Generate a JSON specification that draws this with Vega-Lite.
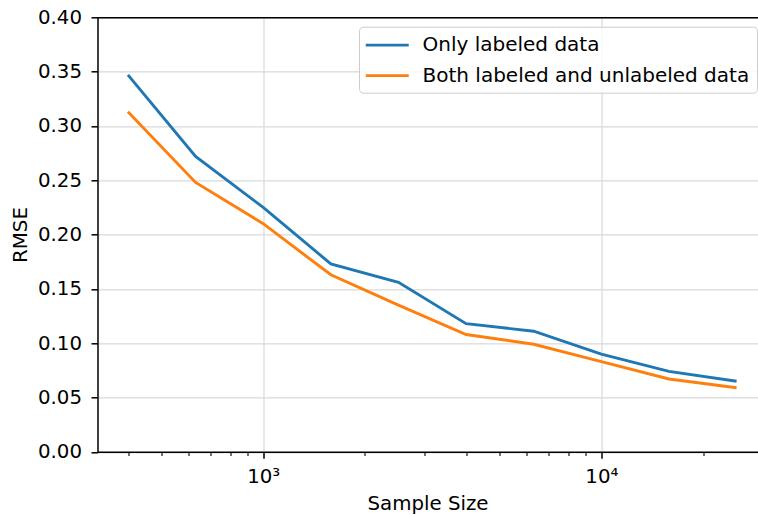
{
  "$schema": "https://vega.github.io/schema/vega-lite/v6.json",
  "width": 660,
  "height": 434.5,
  "autosize": {"type": "none"},
  "padding": {"left": 97.5, "top": 17.3, "right": 0.5, "bottom": 63.2},
  "background": "white",
  "config": {
    "font": "DejaVu Sans",
    "view": {"stroke": null},
    "axis": {
      "labelFont": "DejaVu Sans",
      "titleFont": "DejaVu Sans",
      "labelFontSize": 19.8,
      "titleFontSize": 19.8,
      "titleFontWeight": "normal",
      "labelColor": "black",
      "titleColor": "black",
      "domainColor": "black",
      "domainWidth": 1.5,
      "tickColor": "black",
      "tickWidth": 1.5,
      "gridColor": "#d9d9d9",
      "gridWidth": 1.2
    },
    "legend": {
      "orient": "none",
      "legendX": 261.5,
      "legendY": 9.4,
      "symbolType": "M-1.205,0H3.205",
      "symbolSize": 380,
      "symbolStrokeWidth": 2.8,
      "labelOffset": 33.5,
      "padding": 7,
      "rowPadding": 8.5,
      "strokeColor": "#cccccc",
      "cornerRadius": 4,
      "fillColor": "rgba(255,255,255,0.8)",
      "labelFont": "DejaVu Sans",
      "labelFontSize": 20,
      "labelColor": "black",
      "labelLimit": 500
    }
  },
  "data": {
    "values": [
      {"n": 398.1, "rmse": 0.347, "method": "Only labeled data"},
      {"n": 631.0, "rmse": 0.272, "method": "Only labeled data"},
      {"n": 1000, "rmse": 0.225, "method": "Only labeled data"},
      {"n": 1584.9, "rmse": 0.173, "method": "Only labeled data"},
      {"n": 2511.9, "rmse": 0.156, "method": "Only labeled data"},
      {"n": 3981.1, "rmse": 0.118, "method": "Only labeled data"},
      {"n": 6309.6, "rmse": 0.111, "method": "Only labeled data"},
      {"n": 10000, "rmse": 0.090, "method": "Only labeled data"},
      {"n": 15848.9, "rmse": 0.074, "method": "Only labeled data"},
      {"n": 25118.9, "rmse": 0.065, "method": "Only labeled data"},
      {"n": 398.1, "rmse": 0.313, "method": "Both labeled and unlabeled data"},
      {"n": 631.0, "rmse": 0.248, "method": "Both labeled and unlabeled data"},
      {"n": 1000, "rmse": 0.210, "method": "Both labeled and unlabeled data"},
      {"n": 1584.9, "rmse": 0.163, "method": "Both labeled and unlabeled data"},
      {"n": 2511.9, "rmse": 0.135, "method": "Both labeled and unlabeled data"},
      {"n": 3981.1, "rmse": 0.108, "method": "Both labeled and unlabeled data"},
      {"n": 6309.6, "rmse": 0.099, "method": "Both labeled and unlabeled data"},
      {"n": 10000, "rmse": 0.083, "method": "Both labeled and unlabeled data"},
      {"n": 15848.9, "rmse": 0.067, "method": "Both labeled and unlabeled data"},
      {"n": 25118.9, "rmse": 0.059, "method": "Both labeled and unlabeled data"}
    ]
  },
  "layer": [
    {
      "mark": {"type": "line", "strokeWidth": 2.9, "clip": true},
      "encoding": {
        "x": {
          "field": "n", "type": "quantitative",
          "scale": {"type": "log", "domain": [323.6, 28960], "nice": false},
          "axis": {
            "orient": "bottom",
            "values": [1000, 10000],
            "labelExpr": "datum.value == 1000 ? '10³' : '10⁴'",
            "grid": true,
            "tickSize": 6.5,
            "labelPadding": 8,
            "title": "Sample Size",
            "titlePadding": 7
          }
        },
        "y": {
          "field": "rmse", "type": "quantitative",
          "scale": {"domain": [0, 0.4], "nice": false},
          "axis": {
            "values": [0, 0.05, 0.1, 0.15, 0.2, 0.25, 0.3, 0.35, 0.4],
            "format": ".2f",
            "grid": true,
            "tickSize": 6.5,
            "labelPadding": 9.5,
            "title": "RMSE",
            "titlePadding": 7
          }
        },
        "color": {
          "field": "method", "type": "nominal",
          "scale": {"domain": ["Only labeled data", "Both labeled and unlabeled data"], "range": ["#1f77b4", "#ff7f0e"]},
          "legend": {"title": null}
        }
      }
    },
    {
      "mark": {"type": "line", "strokeWidth": 0, "opacity": 0},
      "encoding": {
        "x": {
          "field": "n", "type": "quantitative",
          "scale": {"type": "log", "domain": [323.6, 28960], "nice": false},
          "axis": {
            "orient": "bottom",
            "values": [400, 500, 600, 700, 800, 900, 2000, 3000, 4000, 5000, 6000, 7000, 8000, 9000, 20000],
            "labels": false, "grid": false, "domain": false,
            "tickSize": 3.7, "tickWidth": 1.1, "title": null
          }
        },
        "y": {"field": "rmse", "type": "quantitative"},
        "detail": {"field": "method"}
      }
    },
    {
      "mark": {"type": "line", "strokeWidth": 0, "opacity": 0},
      "encoding": {
        "x": {
          "field": "n", "type": "quantitative",
          "scale": {"type": "log", "domain": [323.6, 28960], "nice": false},
          "axis": {
            "orient": "top",
            "values": [],
            "labels": false, "grid": false, "domain": true, "ticks": false, "title": null
          }
        },
        "y": {"field": "rmse", "type": "quantitative"},
        "detail": {"field": "method"}
      }
    }
  ],
  "resolve": {"axis": {"x": "independent"}}
}
